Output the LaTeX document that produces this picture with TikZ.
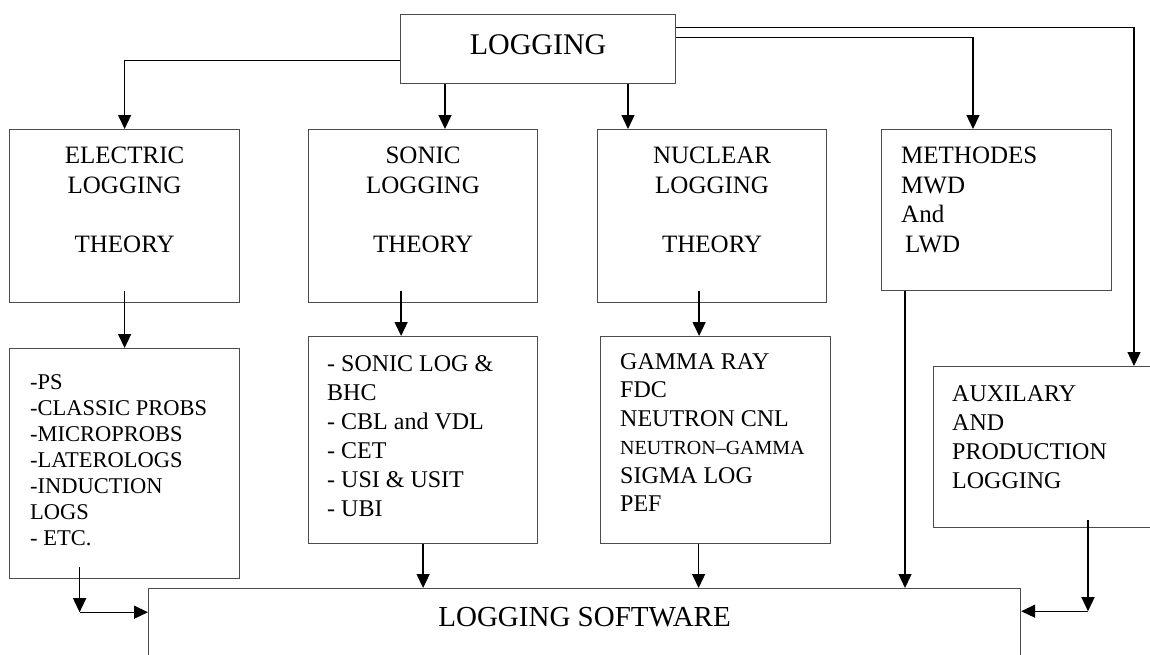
\documentclass[tikz,border=0pt]{standalone}
\usepackage{fontspec}
\setmainfont{Liberation Serif}
\usepackage{tikz}
\usetikzlibrary{shapes,arrows.meta}

\begin{document}
\begin{tikzpicture}[x=1pt,y=-1pt]
	\tikzstyle{block}=[draw=black!70,line width=1.2pt,rectangle,anchor=north west,inner sep=0pt]
	\tikzstyle{txt}=[inner sep=0pt,font=\fontsize{25}{29.5}\selectfont]
	\tikzstyle{arr}=[line width=1.4pt,-{Triangle[length=14pt,width=13pt]}]

	\useasboundingbox (0,0) rectangle (1150,654);
	\clip (0,0) rectangle (1150,654);

	\node[block,minimum width=275pt,minimum height=69pt,font=\fontsize{30}{36}\selectfont,text depth=10pt] (logging) at (400,14) {LOGGING};

	\node[block,minimum width=230pt,minimum height=173pt] (elec) at (9,129) {};
	\node[block,minimum width=229pt,minimum height=173pt] (sonic) at (308,129) {};
	\node[block,minimum width=229pt,minimum height=173pt] (nuclear) at (597,129) {};
	\node[block,minimum width=230pt,minimum height=161pt] (methodes) at (881,129) {};

	\node[txt,anchor=north,align=center] (elec text) at ([yshift=-18pt]elec.north) {ELECTRIC\\LOGGING\\[29.5pt]THEORY};
	\node[txt,anchor=north,align=center] (sonic text) at ([yshift=-18pt]sonic.north) {SONIC\\LOGGING\\[29.5pt]THEORY};
	\node[txt,anchor=north,align=center] (nuclear text) at ([yshift=-18pt]nuclear.north) {NUCLEAR\\LOGGING\\[29.5pt]THEORY};
	\node[txt,anchor=north west,align=left] (methodes text) at ([shift={(20pt,-18pt)}]methodes.north west) {METHODES\\MWD\\And\\\hspace{4pt}LWD};

	\node[block,minimum width=230pt,minimum height=230pt] (elist) at (9,348) {};
	\node[block,minimum width=229pt,minimum height=207pt] (slist) at (308,336) {};
	\node[block,minimum width=230pt,minimum height=207pt] (nlist) at (600,336) {};
	\node[block,minimum width=240pt,minimum height=161pt] (aux) at (933,366) {};

	\node[txt,anchor=north west,align=left,font=\fontsize{22.5}{26}\selectfont] (elist text) at ([shift={(21pt,-26pt)}]elist.north west)
		{-PS\\-CLASSIC PROBS\\-MICROPROBS\\-LATEROLOGS\\-INDUCTION\\LOGS\\- ETC.};
	\node[txt,anchor=north west,align=left,font=\fontsize{24}{29}\selectfont] (slist text) at ([shift={(19pt,-19pt)}]slist.north west)
		{- SONIC LOG \&\\BHC\\- CBL and VDL\\- CET\\- USI \& USIT\\- UBI};
	\node[txt,anchor=north west,align=left,font=\fontsize{24}{28.5}\selectfont] (nlist text) at ([shift={(20pt,-17pt)}]nlist.north west)
		{GAMMA RAY\\FDC\\NEUTRON CNL\\{\fontsize{20}{24}\selectfont NEUTRON--GAMMA}\\SIGMA LOG\\PEF};
	\node[txt,anchor=north west,align=left,font=\fontsize{24}{29}\selectfont] (aux text) at ([shift={(19pt,-19pt)}]aux.north west)
		{AUXILARY\\AND\\PRODUCTION\\LOGGING};

	\node[block,minimum width=872pt,minimum height=100pt] (soft) at (148,588) {};
	\node[txt,font=\fontsize{29}{34}\selectfont] (soft text) at ([yshift=-29pt]soft.north) {LOGGING SOFTWARE};

	% LOGGING to the groups
	\coordinate (s1) at ([xshift=45pt]logging.south west);
	\coordinate (n1) at ([xshift=228pt]logging.south west);
	\draw[arr] ([yshift=-11.5pt]logging.west) -| (elec.north);
	\draw[arr] (s1) -- (s1 |- sonic.north);
	\draw[arr] (n1) -- (n1 |- nuclear.north);
	\draw[arr] ([yshift=11.5pt]logging.east) -| ([xshift=92pt]methodes.north west);
	\draw[arr] ([yshift=21.5pt]logging.east) -| ([xshift=201pt]aux.north west);

	% theory to lists
	\coordinate (e2) at ([yshift=12pt]elec.south);
	\coordinate (s2) at ([shift={(-22pt,12pt)}]sonic.south);
	\coordinate (n2) at ([shift={(-13pt,12pt)}]nuclear.south);
	\draw[arr] (e2) -- (elist.north);
	\draw[arr] (s2) -- (s2 |- slist.north);
	\draw[arr] (n2) -- (n2 |- nlist.north);

	% into the software
	\coordinate (e3) at ([shift={(-45pt,12pt)}]elist.south);
	\coordinate (ecorner) at ([shift={(-45pt,-33pt)}]elist.south);
	\coordinate (n3) at ([xshift=-17pt]nlist.south);
	\coordinate (m3) at ([xshift=24pt]methodes.south west);
	\coordinate (a3) at ([shift={(155pt,8pt)}]aux.south west);
	\coordinate (acorner) at ([shift={(155pt,-83pt)}]aux.south west);
	\draw[arr] (e3) -- (ecorner);
	\draw[arr] (ecorner) -- (ecorner -| soft.west);
	\draw[arr] (slist.south) -- (slist.south |- soft.north);
	\draw[arr] (n3) -- (n3 |- soft.north);
	\draw[arr] (m3) -- (m3 |- soft.north);
	\draw[arr] (a3) -- (acorner);
	\draw[arr] (acorner) -- (acorner -| soft.east);
\end{tikzpicture}
\end{document}
